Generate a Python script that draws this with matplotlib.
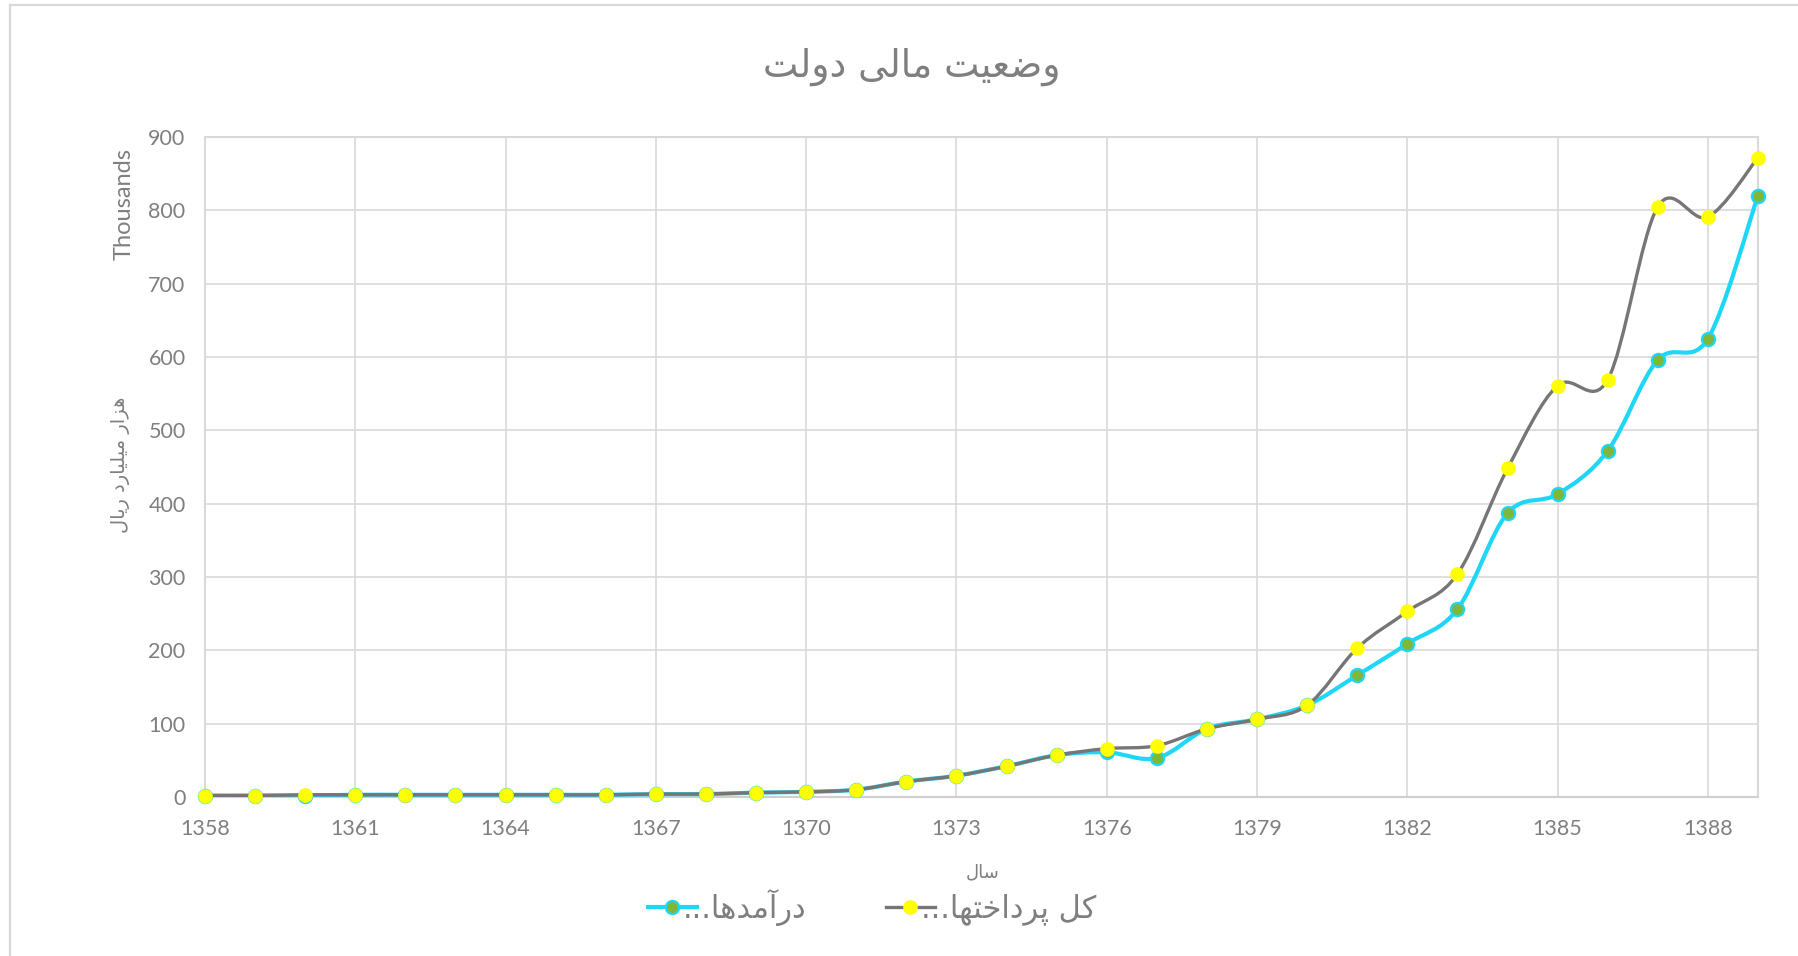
import numpy as np
import matplotlib
matplotlib.use("Agg")
import matplotlib.pyplot as plt
from matplotlib.path import Path
from matplotlib.patches import PathPatch
from matplotlib.lines import Line2D

# data (thousand billion rials, shown in thousands)
years = list(range(1358, 1390))
revenue = [2, 2, 2, 3, 3, 3, 3, 3, 3, 4, 4, 6, 7, 10, 21, 29, 42, 57,
           61, 53, 93, 106, 125, 166, 209, 256, 387, 413, 472, 596, 625, 820]
payments = [2, 2, 3, 3, 3, 3, 3, 3, 3, 4, 4, 6, 7, 10, 21, 29, 42, 57,
            66, 70, 93, 106, 125, 203, 253, 304, 448, 561, 569, 805, 791, 872]
xticks = list(range(1358, 1390, 3))
yticks = list(range(0, 1000, 100))

title_txt = "وضعیت مالی دولت"
ylabel_txt = "هزار میلیارد ریال"
xlabel_txt = "سال"
rev_name = "درآمدها"
pay_name = "کل پرداختها"

# arabic presentation forms: isolated, final, initial, medial (None = no join to next)
FORMS = {
    'ا': ('\uFE8D', '\uFE8E', None, None),
    'آ': ('\uFE81', '\uFE82', None, None),
    'پ': ('\uFB56', '\uFB57', '\uFB58', '\uFB59'),
    'ت': ('\uFE95', '\uFE96', '\uFE97', '\uFE98'),
    'خ': ('\uFEA5', '\uFEA6', '\uFEA7', '\uFEA8'),
    'د': ('\uFEA9', '\uFEAA', None, None),
    'ر': ('\uFEAD', '\uFEAE', None, None),
    'ز': ('\uFEAF', '\uFEB0', None, None),
    'س': ('\uFEB1', '\uFEB2', '\uFEB3', '\uFEB4'),
    'ض': ('\uFEBD', '\uFEBE', '\uFEBF', '\uFEC0'),
    'ع': ('\uFEC9', '\uFECA', '\uFECB', '\uFECC'),
    'ک': ('\uFB8E', '\uFB8F', '\uFB90', '\uFB91'),
    'ل': ('\uFEDD', '\uFEDE', '\uFEDF', '\uFEE0'),
    'م': ('\uFEE1', '\uFEE2', '\uFEE3', '\uFEE4'),
    'ه': ('\uFEE9', '\uFEEA', '\uFEEB', '\uFEEC'),
    'و': ('\uFEED', '\uFEEE', None, None),
    'ی': ('\uFBFC', '\uFBFD', '\uFBFE', '\uFBFF'),
}


def fa(s):
    out = []
    for i, c in enumerate(s):
        if c not in FORMS:
            out.append(c)
            continue
        prev = s[i - 1] if i > 0 else None
        nxt = s[i + 1] if i < len(s) - 1 else None
        jp = prev in FORMS and FORMS[prev][2] is not None
        jn = nxt in FORMS and FORMS[c][2] is not None
        f = FORMS[c]
        if jp and jn:
            out.append(f[3])
        elif jp:
            out.append(f[1])
        elif jn:
            out.append(f[2])
        else:
            out.append(f[0])
    return ''.join(out)[::-1]


def smooth(xs, ys):
    pts = np.column_stack([xs, ys]).astype(float)
    n = len(pts)
    verts = [pts[0]]
    codes = [Path.MOVETO]
    for i in range(n - 1):
        p0 = pts[max(i - 1, 0)]
        p1 = pts[i]
        p2 = pts[i + 1]
        p3 = pts[min(i + 2, n - 1)]
        verts += [p1 + (p2 - p0) / 6, p2 - (p3 - p1) / 6, p2]
        codes += [Path.CURVE4] * 3
    return Path(verts, codes)


grey = '#7f7f7f'
gridc = '#d9d9d9'
cyan = '#1ed6f5'
green = '#7db83a'
dark = '#767676'
yellow = '#ffff00'
afont = ['DejaVu Sans']

plt.rcParams['font.family'] = ['Lato', 'DejaVu Sans']

fig = plt.figure(figsize=(17.99, 9.56), dpi=100)
ax = fig.add_axes([205 / 1799, 1 - 797 / 956, 1553 / 1799, 660 / 956])

ax.add_patch(PathPatch(smooth(years, revenue), fill=False, edgecolor=cyan,
                       lw=3.0, capstyle='round', zorder=3))
ax.plot(years, revenue, ls='none', marker='o', ms=9.5, mfc=green, mec=cyan,
        mew=1.6, zorder=4, clip_on=False)
ax.add_patch(PathPatch(smooth(years, payments), fill=False, edgecolor=dark,
                       lw=2.4, capstyle='round', zorder=5))
ax.plot(years, payments, ls='none', marker='o', ms=9.5, mfc=yellow, mec=yellow,
        mew=1, zorder=6, clip_on=False)

ax.set_xlim(1358, 1389)
ax.set_ylim(0, 900)
ax.set_xticks(xticks)
ax.set_yticks(yticks)
ax.grid(True, color=gridc, lw=1.2)
ax.set_axisbelow(True)
for s in ax.spines.values():
    s.set_color(gridc)
    s.set_linewidth(1.5)
ax.spines['bottom'].set_color('#cfcfcf')
ax.tick_params(length=0, labelsize=15.5, labelcolor=grey)
ax.tick_params(axis='x', pad=16)
ax.tick_params(axis='y', pad=14)

fig.text(912 / 1799, 1 - 67 / 956, fa(title_txt), family=afont, fontsize=27,
         color=grey, ha='center', va='center')
fig.text(124 / 1799, 1 - 204 / 956, 'Thousands', fontsize=17, color=grey,
         rotation=90, ha='center', va='center')
fig.text(120 / 1799, 1 - 465 / 956, fa(ylabel_txt), family=afont, fontsize=14,
         color=grey, rotation=90, ha='center', va='center')
fig.text(983 / 1799, 1 - 872 / 956, fa(xlabel_txt), family=afont, fontsize=13,
         color=grey, ha='center', va='center')

handles = [
    Line2D([], [], color=cyan, lw=3.0, marker='o', ms=9.5, mfc=green, mec=cyan, mew=1.6),
    Line2D([], [], color=dark, lw=2.4, marker='o', ms=9.5, mfc=yellow, mec=yellow),
]
labels = ['...' + fa(rev_name), '...' + fa(pay_name)]
leg = fig.legend(handles, labels, loc='center', bbox_to_anchor=(872 / 1799, 1 - 907 / 956),
                 ncol=2, frameon=False, handlelength=1.6, handletextpad=-0.45,
                 columnspacing=2.6, prop={'family': afont, 'size': 22})
for t in leg.get_texts():
    t.set_color(grey)

# chart area border
fig.add_artist(Line2D([10 / 1799, 10 / 1799], [0, 1 - 5 / 956], transform=fig.transFigure,
                      color=gridc, lw=1.6))
fig.add_artist(Line2D([10 / 1799, 1], [1 - 5 / 956, 1 - 5 / 956], transform=fig.transFigure,
                      color=gridc, lw=1.6))

fig.savefig('out.png', dpi=100)
